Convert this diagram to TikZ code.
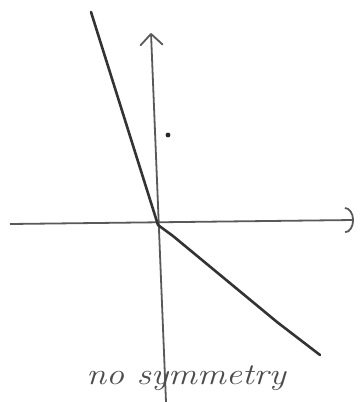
\documentclass[tikz,border=0pt]{standalone}
\usetikzlibrary{arrows.meta}
\begin{document}
\begin{tikzpicture}[x=1pt,y=-1pt,
  axis/.style={draw=black!65,line width=1.8pt},
  graph/.style={draw=black!80,line width=2.6pt,line join=round,line cap=round},
  lbl/.style={text=black!70,font=\fontsize{30}{30}\selectfont\itshape,inner sep=0pt}]
\useasboundingbox (0,0) rectangle (361,402);
\fill[white] (0,0) rectangle (361,402);
\coordinate (xl) at (10,224);
\coordinate (xr) at (354,220);
\coordinate (yb) at (166,402);
\coordinate (yt) at (151,33);
\coordinate (o) at (158,225);
\coordinate (a) at (91,12);
\coordinate (b) at (173,236);
\coordinate (c) at (277,322);
\coordinate (d) at (320,355);
\draw[axis,-{Arc Barb[length=9pt,width=26pt,line width=1.8pt]}] (xl) -- (xr);
\draw[axis,-{Straight Barb[length=11pt,width=22pt,line width=1.8pt,round]}] (yb) -- (yt);
\draw[graph] (a) -- (o) -- (b) -- (c) -- (d);
\fill[black!85] (168,135) circle (2.4pt);
\node[lbl,xscale=1.2] (t) at (186,378) {no symmetry};
\end{tikzpicture}
\end{document}
